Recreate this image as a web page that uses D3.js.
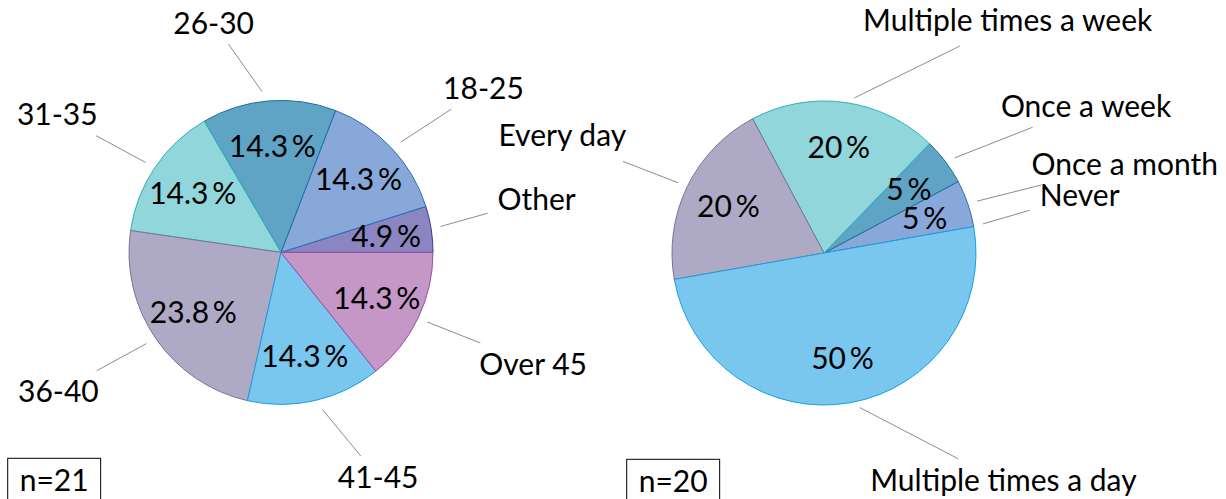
<!DOCTYPE html>
<html>
<head>
<meta charset="utf-8">
<script src="https://cdn.jsdelivr.net/npm/d3@7"></script>
<style>
  body { margin: 0; background: #fff; }
  svg text { font-family: Lato, "Liberation Sans", sans-serif; fill: #000; }
</style>
</head>
<body>
<svg id="chart" width="1226" height="499"></svg>
<script>
// Age distribution of respondents (percent)
const ageGroups  = ["Other", "18-25", "26-30", "31-35", "36-40", "41-45", "Over 45"];
const agePercent = [4.9, 14.3, 14.3, 14.3, 23.8, 14.3, 14.3];
const ageFill    = ["#8b85c1", "#88a8d9", "#5fa3c5", "#90d6db", "#aeaac5", "#79c6ee", "#c497c7"];
const ageStroke  = ["#3b3896", "#2c6fb5", "#1f6e99", "#2ab3bd", "#77739a", "#1a9fdf", "#9b4ea3"];
const ageSample  = "n=21";

// Usage frequency (percent)
const usageGroups  = ["Never", "Once a month", "Once a week", "Multiple times a week", "Every day", "Multiple times a day"];
const usagePercent = [0, 5, 5, 20, 20, 50];
const usageFill    = ["#8b85c1", "#88a8d9", "#5fa3c5", "#90d6db", "#aeaac5", "#79c6ee"];
const usageStroke  = ["#3b3896", "#2c6fb5", "#1f6e99", "#2ab3bd", "#77739a", "#1a9fdf"];
const usageSample  = "n=20";

const svg = d3.select("#chart");
const FS = 30;             // label font size
const CAP = 0.7165 * FS;   // cap height of the font
const NODE_ASC = 23;       // label box ascent
const NODE_DESC = 5;       // label box depth for descenders
const R = 152;             // pie radius
const PIN = 57;            // pin distance from the rim
const INNER = 9.5;         // padding around label text
const DOT = 9.3;           // half-size of the pin's base node

function fmt(v) { return v + "\u2009%"; }

function drawPie(cfg) {
  const g = svg.append("g").attr("transform", `translate(${cfg.cx},${cfg.cy})`);
  const start = Math.PI / 2 - cfg.startDeg * Math.PI / 180;
  const pie = d3.pie().sort(null).value(d => d.value)
    .startAngle(start).endAngle(start - 2 * Math.PI);
  const rows = cfg.labels.map((l, i) => ({ label: l, value: cfg.values[i], fill: cfg.fill[i], stroke: cfg.stroke[i] }));
  const arcs = pie(rows);
  const arc = d3.arc().innerRadius(0).outerRadius(R);

  g.selectAll("path.slice").data(arcs.filter(a => a.data.value > 0)).join("path")
    .attr("class", "slice")
    .attr("d", arc)
    .attr("fill", a => a.data.fill)
    .attr("stroke", a => a.data.stroke)
    .attr("stroke-width", 1);

  const lines = g.append("g");

  arcs.forEach(a => {
    const theta = Math.PI / 2 - (a.startAngle + a.endAngle) / 2;
    const ux = Math.cos(theta), uy = -Math.sin(theta);

    // value inside the slice
    if (a.data.value > 0) {
      g.append("text")
        .attr("x", 0.7 * R * ux)
        .attr("y", 0.7 * R * uy + CAP / 2)
        .attr("text-anchor", "middle")
        .style("font-size", FS + "px")
        .text(fmt(a.data.value));
    }

    // pin label outside
    const t = g.append("text").style("font-size", FS + "px").text(a.data.label);
    const tw = t.node().getComputedTextLength();
    const desc = /[gjpqy]/.test(a.data.label) ? NODE_DESC : 0;
    const hw = tw / 2 + INNER + 0.5, hh = (NODE_ASC + desc) / 2 + INNER;
    const px = R * ux, py = R * uy;
    const qx = px + PIN * ux, qy = py + PIN * uy;
    const deg = ((theta * 180 / Math.PI) % 360 + 360) % 360;
    let ax, ay; // node centre relative to its anchor point
    if (deg < 2 || deg > 358) { ax = hw; ay = 0; }
    else if (deg < 88) { ax = hw; ay = -hh; }
    else if (deg <= 92) { ax = 0; ay = -hh; }
    else if (deg < 178) { ax = -hw; ay = -hh; }
    else if (deg <= 182) { ax = -hw; ay = 0; }
    else if (deg < 268) { ax = -hw; ay = hh; }
    else if (deg <= 272) { ax = 0; ay = hh; }
    else { ax = hw; ay = hh; }
    const cx = qx + ax, cy = qy + ay;
    const base = cy + (NODE_ASC - desc) / 2 - (NODE_ASC - CAP) / 2;
    t.attr("x", cx - tw / 2).attr("y", base);

    const dx = cx - px, dy = cy - py, len = Math.hypot(dx, dy);
    const vx = dx / len, vy = dy / len;
    const tA = Math.min(DOT / Math.abs(vx || 1e-9), DOT / Math.abs(vy || 1e-9));
    const tE = Math.min(hw / Math.abs(vx || 1e-9), hh / Math.abs(vy || 1e-9));
    lines.append("line")
      .attr("x1", px + tA * vx).attr("y1", py + tA * vy)
      .attr("x2", cx - tE * vx).attr("y2", cy - tE * vy)
      .attr("stroke", "#8c8c8c").attr("stroke-width", 1);
  });

  // sample size box
  const bt = svg.append("text").style("font-size", FS + "px").text(cfg.sample);
  const bw = bt.node().getComputedTextLength();
  const padX = 12;
  bt.attr("x", cfg.boxX + padX).attr("y", cfg.boxY + 10 + NODE_ASC - (NODE_ASC - CAP) / 2);
  svg.insert("rect", () => bt.node())
    .attr("x", cfg.boxX).attr("y", cfg.boxY)
    .attr("width", bw + 2 * padX).attr("height", NODE_ASC + 2 * INNER + 2)
    .attr("fill", "none").attr("stroke", "#000").attr("stroke-width", 1);
}

drawPie({ cx: 281, cy: 252.4, startDeg: 0, labels: ageGroups, values: agePercent,
          fill: ageFill, stroke: ageStroke, sample: ageSample, boxX: 7.7, boxY: 458.3 });
drawPie({ cx: 824, cy: 253, startDeg: 10, labels: usageGroups, values: usagePercent,
          fill: usageFill, stroke: usageStroke, sample: usageSample, boxX: 626.7, boxY: 459.3 });
</script>
</body>
</html>
